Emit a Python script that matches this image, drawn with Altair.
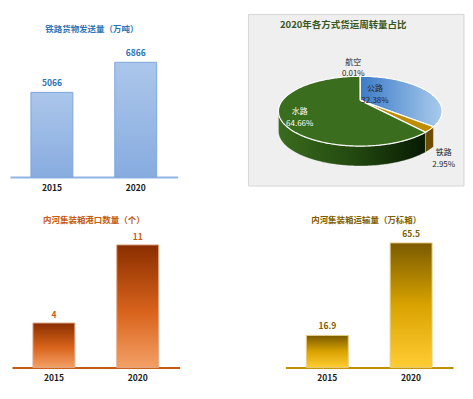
import altair as alt
import numpy as np
import pandas as pd

FONT = "Noto Sans CJK SC"

# ---------------- data ----------------
years = ["2015", "2020"]
rail_freight = [5066, 6866]     # 铁路货物发送量（万吨）
river_ports = [4, 11]           # 内河集装箱港口数量（个）
river_teu = [16.9, 65.5]        # 内河集装箱运输量（万标箱）

modes = ["公路", "铁路", "水路", "航空"]
shares = [32.38, 2.95, 64.66, 0.01]   # 2020年各方式货运周转量占比 (%)

# ---------------- layout constants ----------------
LEFT_W, RIGHT_W = 241, 216
TOP_H, BOT_H = 169, 191
APEX_V = 0.31      # apex of the tilted pie (perspective)
DEPTH = 0.57       # thickness of the 3-D pie
LABEL_POS = {"公路": (0.18, 0.63), "铁路": (1.02, -1.2), "水路": (-0.74, -0.03), "航空": (-0.085, 1.386)}


def vgrad(stops):
    return {"gradient": "linear", "x1": 0, "y1": 0, "x2": 0, "y2": 1,
            "stops": [{"offset": o, "color": c} for o, c in stops]}


def hgrad(stops):
    return {"gradient": "linear", "x1": 0, "y1": 0, "x2": 1, "y2": 0,
            "stops": [{"offset": o, "color": c} for o, c in stops]}


def bar_panel(values, fmt, title, title_xy, width, height, x_range, y_max,
              bar_fill, bar_stroke, axis_color, text_color, dy):
    df = pd.DataFrame({"year": years, "value": values,
                       "label": [fmt.format(v) for v in values]})
    x = alt.X("year:N", sort=years,
              scale=alt.Scale(range=x_range, paddingInner=0.5, paddingOuter=0.25),
              axis=alt.Axis(title=None, labelAngle=0, ticks=False, grid=False,
                            domainColor=axis_color, domainWidth=2,
                            labelFont=FONT, labelFontSize=8.5, labelFontWeight="bold",
                            labelColor="#1a1a1a", labelPadding=6))
    y = alt.Y("value:Q", scale=alt.Scale(domain=[0, y_max], nice=False), axis=None)
    base = alt.Chart(df)
    bars = base.mark_bar(fill=bar_fill, stroke=bar_stroke, strokeWidth=1).encode(x=x, y=y)
    vals = base.mark_text(font=FONT, fontSize=8.5, fontWeight="bold", color=text_color,
                          baseline="bottom", dy=dy).encode(x=x, y=y, text="label:N")
    ttl = alt.Chart(pd.DataFrame({"t": [title]})).mark_text(
        font=FONT, fontSize=8.5, fontWeight="bold", color=text_color,
        baseline="middle", align="center").encode(
        x=alt.value(title_xy[0]), y=alt.value(title_xy[1]), text="t:N")
    return alt.layer(bars, vals, ttl).properties(width=width, height=height)


p1 = bar_panel(rail_freight, "{:d}", "铁路货物发送量（万吨）", (84, 21), LEFT_W, TOP_H,
               [2, 170], 10090,
               vgrad([(0, "#abc6ea"), (1, "#88ace0")]), "#7ea6dc", "#8fb4e3", "#2e75b6", -4)
p3 = bar_panel(river_ports, "{:d}", "内河集装箱港口数量（个）", (86, 43), LEFT_W, BOT_H,
               [4, 172], 17.08,
               vgrad([(0, "#8a2e00"), (0.55, "#d9641c"), (1, "#f3a066")]), "#e0aa8a", "#c55a11", "#c55a11", -3)
p4 = bar_panel(river_teu, "{:.1f}", "内河集装箱运输量（万标箱）", (118, 43), RIGHT_W, BOT_H,
               [37, 205], 100.1,
               vgrad([(0, "#7a5a00"), (0.5, "#d9a300"), (1, "#ffcc33")]), "#e6cc85", "#bf9000", "#7f6000", -4)

# ---------------- 3-D pie ----------------
ang = np.concatenate([[0.0], np.cumsum(shares)]) / sum(shares) * 2 * np.pi
top_rows, side_rows = [], []
for k, name in enumerate(modes):
    a0, a1 = ang[k], ang[k + 1]
    n = max(2, int(np.degrees(a1 - a0)) + 2)
    t = np.linspace(a0, a1, n)
    pts = [(0.0, APEX_V)] + list(zip(np.sin(t), np.cos(t))) + [(0.0, APEX_V)]
    for i, (u, v) in enumerate(pts):
        top_rows.append({"mode": name, "i": i, "u": u, "v": v})
    s0, s1 = max(a0, np.pi / 2), min(a1, 1.5 * np.pi)
    if s1 > s0:
        t = np.linspace(s0, s1, max(2, int(np.degrees(s1 - s0)) + 2))
        up = list(zip(np.sin(t), np.cos(t)))
        dn = [(u, v - DEPTH) for u, v in reversed(up)]
        for i, (u, v) in enumerate(up + dn + up[:1]):
            side_rows.append({"mode": name, "i": i, "u": u, "v": v})
top_df = pd.DataFrame(top_rows)
side_df = pd.DataFrame(side_rows)

U_SCALE = alt.Scale(domain=[-1.366, 1.268], nice=False, zero=False)
V_SCALE = alt.Scale(domain=[-1.886, 2.943], nice=False, zero=False)
U = alt.X("u:Q", scale=U_SCALE, axis=None)
V = alt.Y("v:Q", scale=V_SCALE, axis=None)

top_fill = {
    "公路": hgrad([(0, "#3c7bc8"), (1, "#a9cbec")]),
    "铁路": "#bf8c00",
    "水路": "#3b6d1e",
    "航空": "#7f7f7f",
}
side_fill = {
    "铁路": "#6b4c00",
    "水路": hgrad([(0, "#3a6b1e"), (0.5, "#234a10"), (1, "#081a03")]),
}

box = alt.Chart(pd.DataFrame({"k": [0]})).mark_rect(
    fill="#efefef", stroke="#d6d6d6", strokeWidth=1).encode(
    x=alt.value(0), x2=alt.value(216), y=alt.value(6), y2=alt.value(178))

pie_layers = [box]
for name in modes:
    if name in side_fill:
        pie_layers.append(
            alt.Chart(side_df).transform_filter(alt.datum.mode == name)
            .mark_line(fill=side_fill[name], stroke="#ffffff", strokeWidth=0.6, strokeOpacity=0.6)
            .encode(x=U, y=V, order="i:Q"))
for name in modes:
    pie_layers.append(
        alt.Chart(top_df).transform_filter(alt.datum.mode == name)
        .mark_line(fill=top_fill[name], stroke="#ffffff", strokeWidth=1.2)
        .encode(x=U, y=V, order="i:Q"))

lab_df = pd.DataFrame({
    "mode": modes,
    "text": [f"{m}\n{s:.2f}%" for m, s in zip(modes, shares)],
    "lu": [LABEL_POS[m][0] for m in modes],
    "lv": [LABEL_POS[m][1] for m in modes],
})
labels = alt.Chart(lab_df).mark_text(
    font=FONT, fontSize=8, lineBreak="\n", lineHeight=11.5,
    align="center", baseline="middle").encode(
    x=alt.X("lu:Q", scale=U_SCALE, axis=None),
    y=alt.Y("lv:Q", scale=V_SCALE, axis=None),
    text="text:N",
    color=alt.condition(alt.datum.mode == "水路", alt.value("#ffffff"), alt.value("#262626")))
pie_layers.append(labels)

pie_title = alt.Chart(pd.DataFrame({"t": ["2020年各方式货运周转量占比"]})).mark_text(
    font=FONT, fontSize=9.5, fontWeight="bold", color="#375623",
    align="center", baseline="middle").encode(
    x=alt.value(95), y=alt.value(17), text="t:N")
pie_layers.append(pie_title)

p2 = alt.layer(*pie_layers).properties(width=RIGHT_W, height=TOP_H)

chart = alt.concat(p1, p2, p3, p4, columns=2, spacing=0, bounds="flush", padding=0) \
    .configure_view(strokeWidth=0)

chart.save("out.html", embed_options={"renderer": "svg", "actions": False})
